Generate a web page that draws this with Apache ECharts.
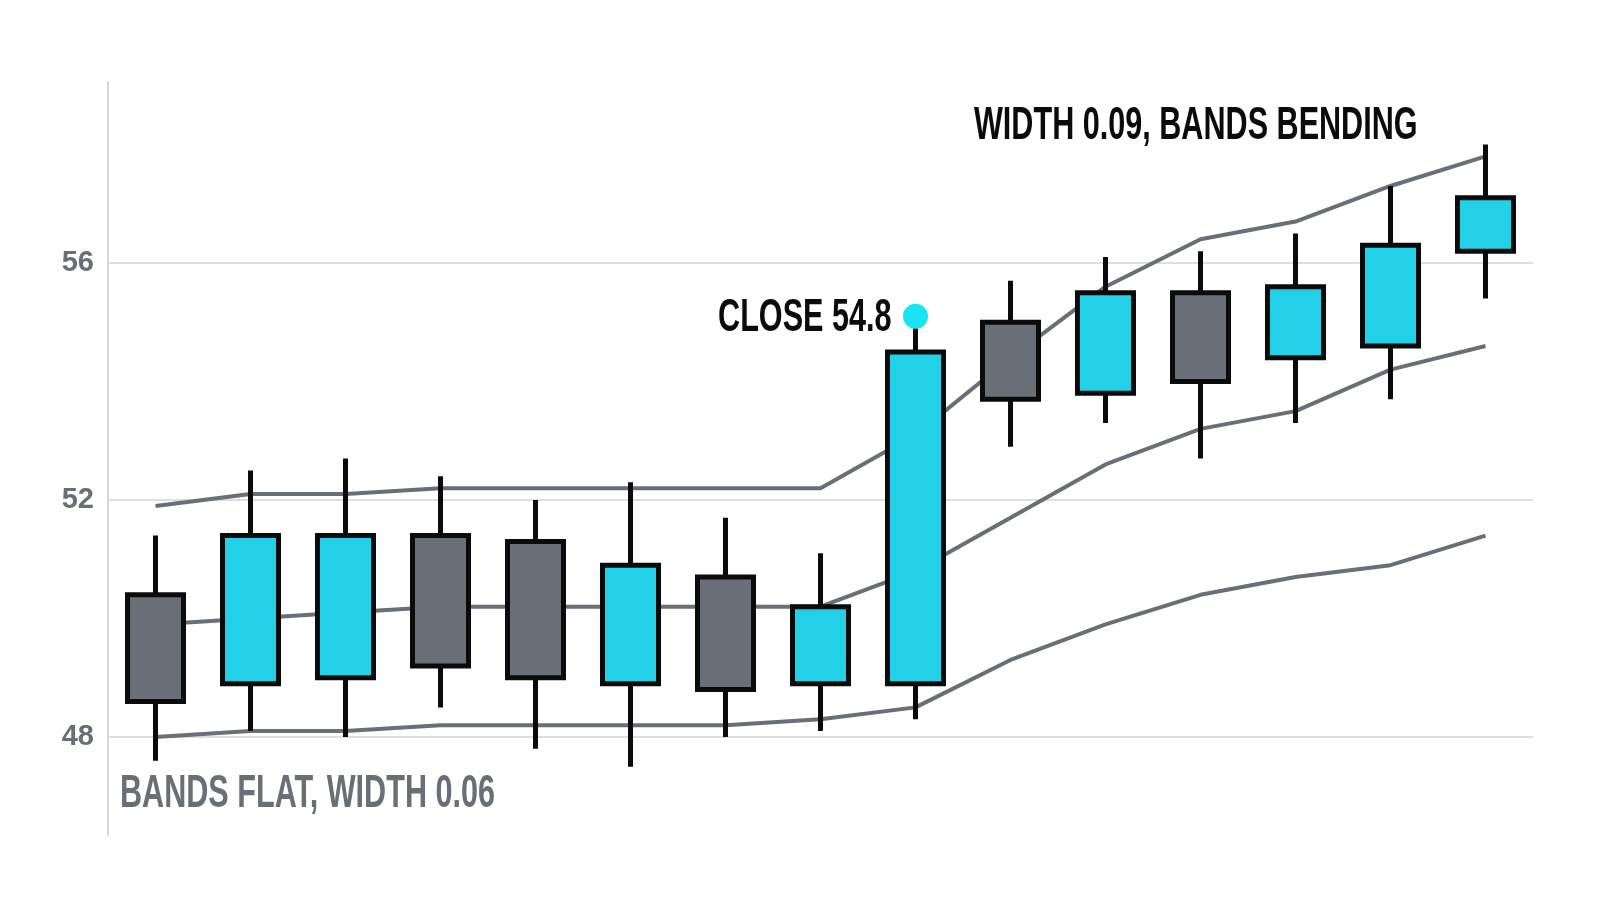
<!DOCTYPE html>
<html>
<head>
<meta charset="utf-8">
<title>Bands</title>
<script src="https://cdn.jsdelivr.net/npm/echarts@6/dist/echarts.min.js"></script>
<style>
  html, body { margin: 0; padding: 0; background: #fff; }
  #chart { width: 1600px; height: 914px; }
</style>
</head>
<body>
<div id="chart"></div>
<script>
// sessions 1..15
const days = ['1', '2', '3', '4', '5', '6', '7', '8', '9', '10', '11', '12', '13', '14', '15'];
// [open, close, low, high]
const candles = [
  [50.4, 48.6, 47.6, 51.4],
  [48.9, 51.4, 48.1, 52.5],
  [49.0, 51.4, 48.0, 52.7],
  [51.4, 49.2, 48.5, 52.4],
  [51.3, 49.0, 47.8, 52.0],
  [48.9, 50.9, 47.5, 52.3],
  [50.7, 48.8, 48.0, 51.7],
  [48.9, 50.2, 48.1, 51.1],
  [48.9, 54.5, 48.3, 55.1],
  [55.0, 53.7, 52.9, 55.7],
  [53.8, 55.5, 53.3, 56.1],
  [55.5, 54.0, 52.7, 56.2],
  [54.4, 55.6, 53.3, 56.5],
  [54.6, 56.3, 53.7, 57.3],
  [56.2, 57.1, 55.4, 58.0],
];
const upperBand = [51.9, 52.1, 52.1, 52.2, 52.2, 52.2, 52.2, 52.2, 53.1, 54.4, 55.6, 56.4, 56.7, 57.3, 57.8];
const middleBand = [49.9, 50.0, 50.1, 50.2, 50.2, 50.2, 50.2, 50.2, 50.8, 51.7, 52.6, 53.2, 53.5, 54.2, 54.6];
const lowerBand = [48.0, 48.1, 48.1, 48.2, 48.2, 48.2, 48.2, 48.3, 48.5, 49.3, 49.9, 50.4, 50.7, 50.9, 51.4];
const yTicks = [48, 52, 56];
const marker = ['9', 55.1];
const markerText = 'CLOSE 54.8';

const FONT = '"Liberation Sans", Arial, sans-serif';
const GRAY = '#696e77';
const CYAN = '#22d0e8';
const INK = '#0b0b0b';

const chart = echarts.init(document.getElementById('chart'));

const bandLine = (name, data) => ({
  name: name,
  type: 'line',
  data: data,
  symbol: 'none',
  z: 1,
  silent: true,
  lineStyle: { color: GRAY, width: 4 },
});

// squeezed bold text, to get the condensed look
const narrowText = (text, x, y, align, color) => ({
  type: 'text',
  x: x,
  y: y,
  scaleX: 0.665,
  style: {
    text: text,
    fill: color,
    font: 'bold 46px ' + FONT,
    textAlign: align,
    textVerticalAlign: 'middle',
  },
});

chart.setOption({
  animation: false,
  grid: { left: 108, right: 67, top: 82, bottom: 79 },
  xAxis: {
    type: 'category',
    data: days,
    axisLine: { show: false },
    axisTick: { show: false },
    axisLabel: { show: false },
  },
  yAxis: {
    type: 'value',
    min: 46.346,
    max: 59.055,
    axisLine: { show: true, lineStyle: { color: '#d4d6da', width: 2 } },
    axisTick: { show: false, customValues: yTicks },
    axisLabel: {
      customValues: yTicks,
      margin: 14,
      color: GRAY,
      fontFamily: FONT,
      fontWeight: 'bold',
      fontSize: 29,
    },
    splitLine: { show: true, lineStyle: { color: '#dcdee2', width: 2 } },
  },
  series: [
    bandLine('upper', upperBand),
    bandLine('middle', middleBand),
    bandLine('lower', lowerBand),
    {
      name: 'price',
      type: 'candlestick',
      data: candles,
      barWidth: 57,
      z: 3,
      itemStyle: {
        color: CYAN,
        color0: GRAY,
        borderColor: INK,
        borderColor0: INK,
        borderWidth: 5,
      },
    },
    {
      name: 'close',
      type: 'scatter',
      data: [marker],
      symbolSize: 25,
      z: 4,
      itemStyle: { color: '#18e4f2', opacity: 1 },
    },
  ],
});

const dot = chart.convertToPixel({ seriesIndex: 4 }, marker);
chart.setOption({
  graphic: [
    narrowText(markerText, dot[0] - 24, dot[1] + 2, 'right', INK),
    narrowText('WIDTH 0.09, BANDS BENDING', 974, 126, 'left', INK),
    narrowText('BANDS FLAT, WIDTH 0.06', 120, 794, 'left', GRAY),
  ],
});
</script>
</body>
</html>
